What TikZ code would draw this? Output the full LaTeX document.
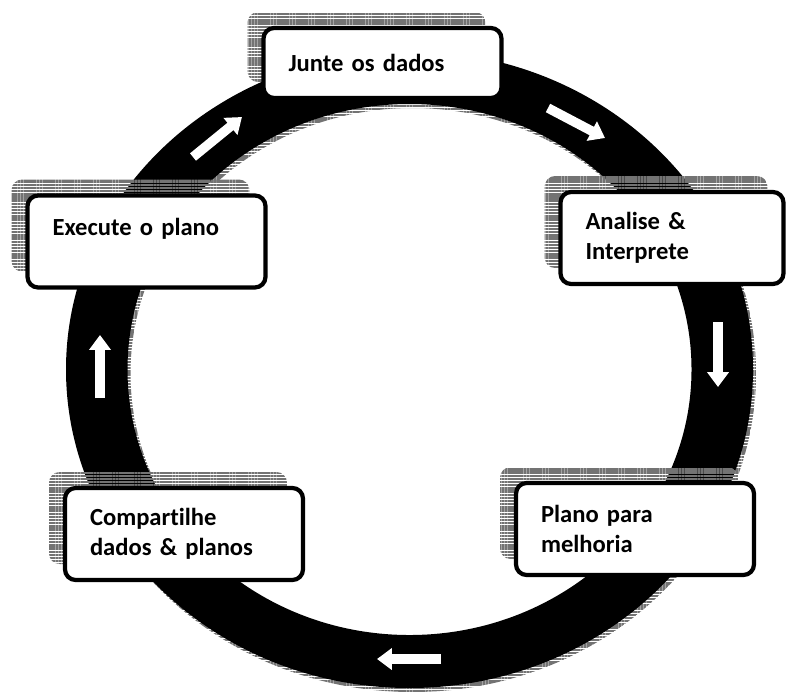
\documentclass[tikz,border=0pt]{standalone}
\usepackage{fontspec}
\setmainfont{Carlito}[Ligatures=NoCommon]
\usetikzlibrary{arrows.meta,patterns.meta,shadows}

\begin{document}
\begin{tikzpicture}[
    x=0.02cm, y=-0.02cm,
    stripes/.style={pattern={Lines[distance=1.8pt, line width=1.35pt]}, pattern color=black!55},
    box/.style={draw, line width=2.4pt, rounded corners=6pt, fill=white, align=left,
        inner xsep=0.5cm, text width=3.76cm, minimum height=1.84cm,
        font=\fontsize{14}{17}\selectfont\bfseries,
        general shadow={shadow xshift=-0.32cm, shadow yshift=0.32cm, stripes}},
    flow/.style={draw=white, line width=5.4pt, -{Triangle[length=8.5pt, width=12pt]}}
]
    \useasboundingbox (0,0) rectangle (786,694);

    % Ring and its shadow
    \path[stripes, even odd rule] (412.5,373.5) ellipse [x radius=343.5, y radius=318.5]
        (412.5,373.5) ellipse [x radius=282, y radius=265.5];
    \fill[black, even odd rule] (409.5,369.5) ellipse [x radius=343.5, y radius=318.5]
        (409.5,369.5) ellipse [x radius=282, y radius=265.5];

    % Arrows on the ring
    \coordinate (a1) at (548,108);  \coordinate (b1) at (605,138);
    \coordinate (a2) at (718,322);  \coordinate (b2) at (718,387);
    \coordinate (a3) at (441,659);  \coordinate (b3) at (377,659);
    \coordinate (a4) at (100,398);  \coordinate (b4) at (100,335);
    \coordinate (a5) at (193,157);  \coordinate (b5) at (242,117);
    \draw[flow] (a1) -- (b1);
    \draw[flow] (a2) -- (b2);
    \draw[flow] (a3) -- (b3);
    \draw[flow] (a4) -- (b4);
    \draw[flow] (a5) -- (b5);

    % Steps
    \node[box, minimum height=1.4cm] (junte) at (382.5,63) {Junte os dados};
    \node[box, text width=3.46cm] (analise) at (672,238) {Analise \&\\Interprete};
    \node[box] (plano) at (635,529) {Plano para\\melhoria};
    \node[box] (compart) at (184,534) {Compartilhe\\dados \& planos};
    \node[box] (execute) at (146.5,241.5) {Execute o plano\\\mbox{}};
\end{tikzpicture}
\end{document}
